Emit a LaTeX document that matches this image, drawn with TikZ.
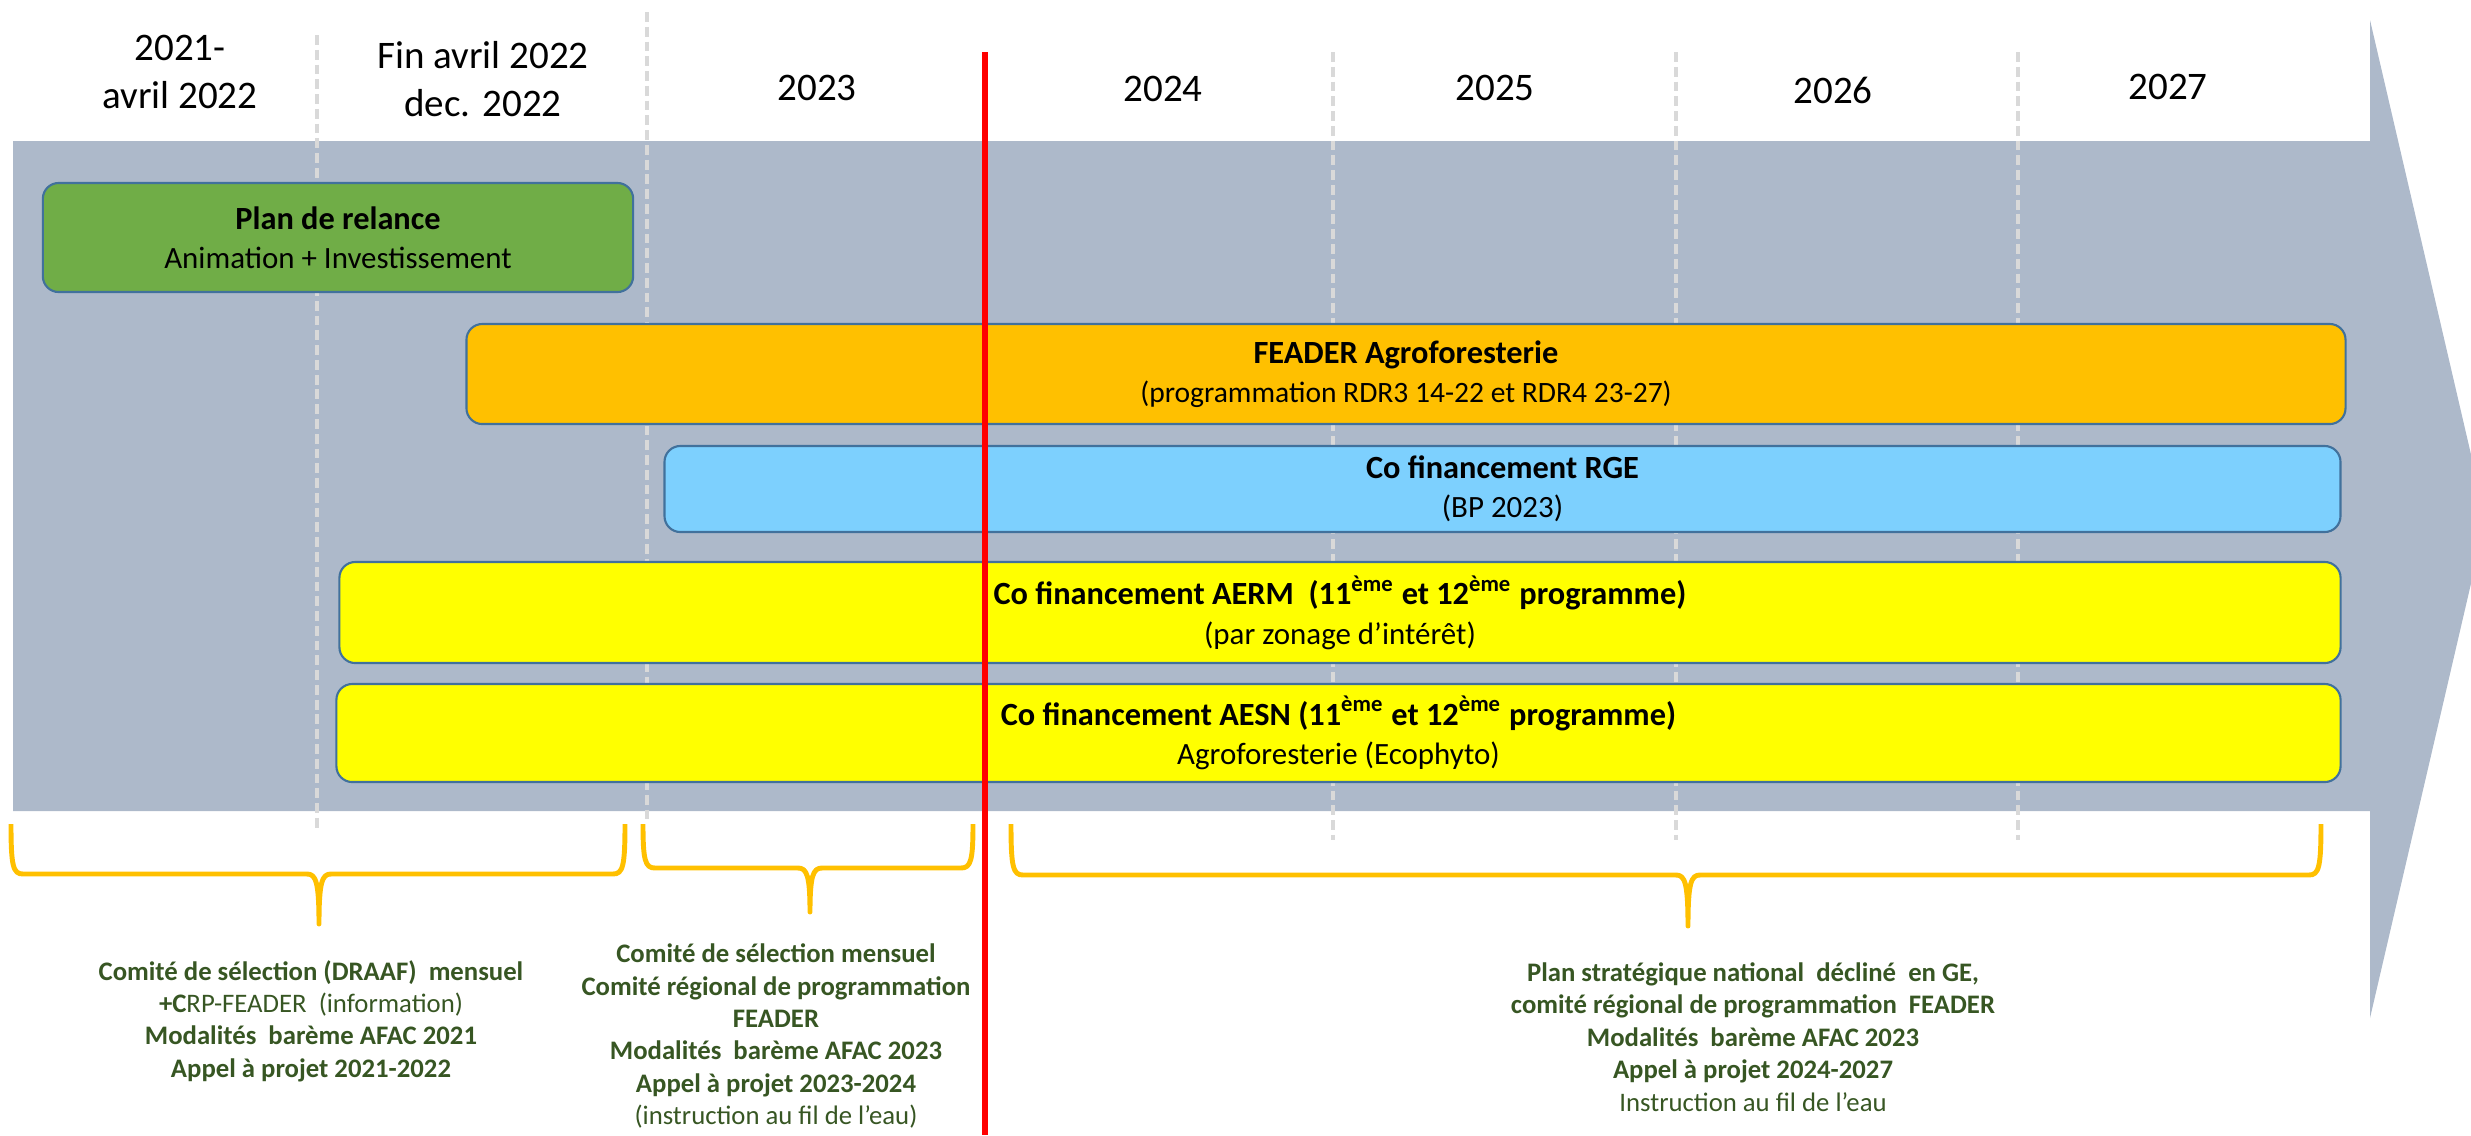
\documentclass[tikz,border=0pt]{standalone}
\usepackage{fontspec}
\setmainfont{Carlito}

\definecolor{fondfleche}{HTML}{ADB9CA}
\definecolor{tiretgris}{HTML}{D9D9D9}
\definecolor{bordbarre}{HTML}{41719C}
\definecolor{vertrelance}{HTML}{70AD47}
\definecolor{orangefeader}{HTML}{FFC000}
\definecolor{bleurge}{HTML}{7DD0FE}
\definecolor{jauneagence}{HTML}{FFFF00}
\definecolor{accoladeor}{HTML}{FFC000}
\definecolor{vertfonce}{HTML}{375623}

\newcommand{\titrebarre}[1]{{\fontsize{9.2}{10.9}\selectfont\bfseries #1}}

\tikzset{
  annee/.style={font=\fontsize{11.1}{13.5}\selectfont, align=center, inner sep=0pt},
  barre/.style={draw=bordbarre, line width=0.6pt, rounded corners=4.5pt, align=center,
    inner sep=0pt, font=\fontsize{8.8}{11.2}\selectfont},
  separation/.style={draw=tiretgris, line width=1pt, dash pattern=on 2.8pt off 1.4pt},
  lignerouge/.style={draw=red, line width=1.9pt},
  accolade/.style={draw=accoladeor, line width=1.4pt, line join=round},
  bilan/.style={text=vertfonce, font=\fontsize{7.6}{9.2}\selectfont\bfseries, align=center,
    inner sep=0pt}
}

\begin{document}
\begin{tikzpicture}[x=0.01cm, y=-0.01cm]
    \useasboundingbox (0,0) rectangle (2471,1135);

    \fill[fondfleche] (13,141) -- (2370,141) -- (2370,20) -- (2486,519)
        -- (2370,1018) -- (2370,811) -- (13,811) -- cycle;

    \foreach \x/\ya/\yb in {317/35/831, 647/12/823, 1333/52/840, 1676/52/840, 2018/52/840}
        \draw[separation] (\x,\ya) -- (\x,\yb);

    \node[annee] (an2122) at (180,72) {2021-\\avril 2022};
    \node[annee] (an2022) at (483,79) {Fin avril 2022\\dec. 2022};
    \node[annee] (an2023) at (817,88) {2023};
    \node[annee] (an2024) at (1163,89) {2024};
    \node[annee] (an2025) at (1495,88) {2025};
    \node[annee] (an2026) at (1833,90) {2026};
    \node[annee] (an2027) at (2168,87) {2027};

    \node[barre, fill=vertrelance, minimum width=5.90cm, minimum height=1.09cm]
        (relance) at (338,237.5) {\titrebarre{Plan de relance}\\Animation + Investissement};
    \node[barre, fill=orangefeader, minimum width=18.78cm, minimum height=1.00cm]
        (feader) at (1406,374) {\titrebarre{FEADER Agroforesterie}\\{\fontsize{8.4}{10}\selectfont (programmation RDR3 14-22 et RDR4 23-27)}};
    \node[barre, fill=bleurge, minimum width=16.75cm, minimum height=0.86cm]
        (rge) at (1502.5,489) {\titrebarre{Co financement RGE}\\(BP 2023)};
    \node[barre, fill=jauneagence, minimum width=20.00cm, minimum height=1.01cm]
        (aerm) at (1340,612.5) {\titrebarre{Co financement AERM~ (11\textsuperscript{ème} et 12\textsuperscript{ème} programme)}\\(par zonage d’intérêt)};
    \node[barre, fill=jauneagence, minimum width=20.03cm, minimum height=0.98cm]
        (aesn) at (1338.5,733) {\titrebarre{Co financement AESN (11\textsuperscript{ème} et 12\textsuperscript{ème} programme)}\\Agroforesterie (Ecophyto)};

    \draw[lignerouge] (985,52) -- (985,1135);

    \foreach \xa/\xb/\xm/\yh/\yp in {11/625/319/874/924, 643/973/810/868/912, 1011/2321/1688/875/926}
        \draw[accolade] (\xa,824) .. controls (\xa,\yh-8) and (\xa+2,\yh) .. (\xa+12,\yh)
            -- (\xm-12,\yh) .. controls (\xm-3,\yh) and (\xm,\yh+8) .. (\xm,\yp)
            .. controls (\xm,\yh+8) and (\xm+3,\yh) .. (\xm+12,\yh)
            -- (\xb-12,\yh) .. controls (\xb-2,\yh) and (\xb,\yh-8) .. (\xb,824);

    \node[bilan] (bilan2122) at (311,1021) {Comité de sélection (DRAAF)~ mensuel\\+C{\mdseries RP-FEADER~ (information)}\\Modalités~ barème AFAC 2021\\Appel à projet 2021-2022};
    \node[bilan] (bilan2023) at (776,1036) {Comité de sélection mensuel\\Comité régional de programmation\\FEADER\\Modalités~ barème AFAC 2023\\Appel à projet 2023-2024\\{\mdseries (instruction au fil de l’eau)}};
    \node[bilan] (bilan2427) at (1753,1037) {Plan stratégique national~ décliné~ en GE,\\comité régional de programmation~ FEADER\\Modalités~ barème AFAC 2023\\Appel à projet 2024-2027\\{\mdseries Instruction au fil de l’eau}};

\end{tikzpicture}
\end{document}
